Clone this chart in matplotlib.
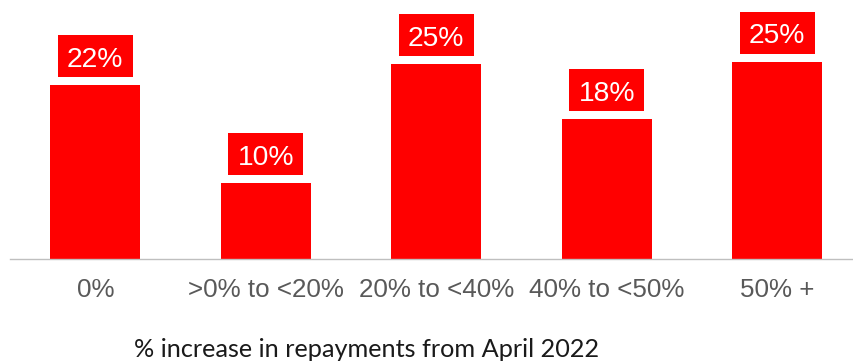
import matplotlib
matplotlib.use("Agg")
import matplotlib.pyplot as plt
import matplotlib.transforms as mtransforms
from matplotlib.patches import Rectangle

# Share of borrowers by increase in monthly repayments
categories = ["0%", ">0% to <20%", "20% to <40%", "40% to <50%", "50% +"]
shares = [22.3, 9.7, 25.0, 17.9, 25.3]
x_title = "% increase in repayments from April 2022"

RED = "#FF0000"
W, H, DPI = 854, 364, 100

fig = plt.figure(figsize=(W / DPI, H / DPI), dpi=DPI)
ax = fig.add_axes([10 / W, (H - 258.7) / H, 844 / W, 258.7 / H])

xs = list(range(len(categories)))
ax.bar(xs, shares, width=0.53, color=RED, edgecolor="none", zorder=2)
ax.set_xlim(-0.5, 4.45)
ax.set_ylim(0, 33.2)

for side in ["top", "right", "left"]:
    ax.spines[side].set_visible(False)
ax.spines["bottom"].set_color("#BFBFBF")
ax.spines["bottom"].set_linewidth(1.0)
ax.set_yticks([])
ax.set_xticks(xs)
ax.set_xticklabels(categories, fontsize=18.7, color="#595959",
                   family="Liberation Sans")
ax.tick_params(axis="x", length=0, pad=14)

# Value labels: white text on red boxes sitting just above each bar
box_w, box_h, gap = 0.75, 0.42, 0.08
for x, v in zip(xs, shares):
    tr = fig.dpi_scale_trans + mtransforms.ScaledTranslation(x, v, ax.transData)
    ax.add_patch(Rectangle((-box_w / 2, gap), box_w, box_h, transform=tr,
                           facecolor=RED, edgecolor="none", clip_on=False,
                           zorder=3))
    ax.text(0, gap + 0.103, f"{round(v)}%", transform=tr, ha="center",
            va="baseline", color="white", fontsize=20.3,
            family="Liberation Sans", zorder=4)

fig.text(367 / W, (H - 357.3) / H, x_title, ha="center", va="baseline",
         fontsize=18.2, color="#1a1a1a", family="Lato")

fig.savefig("out.png", dpi=DPI, facecolor="white")
